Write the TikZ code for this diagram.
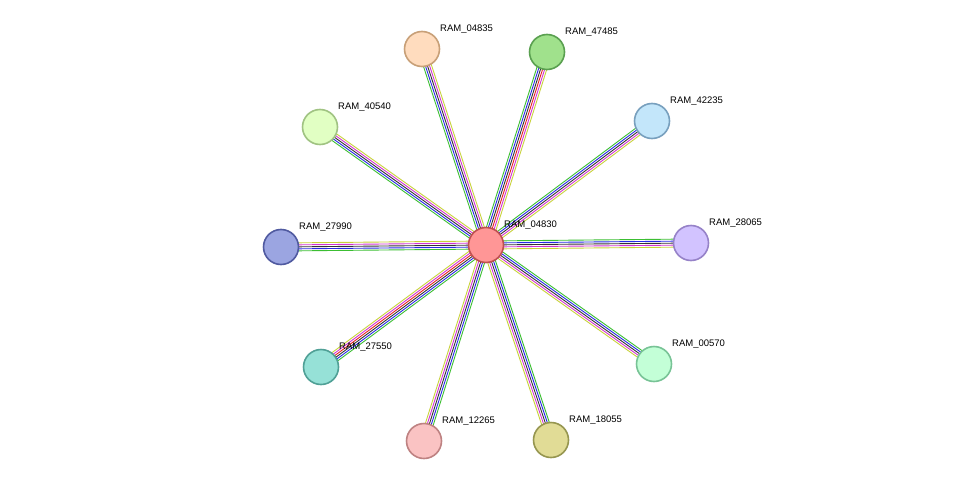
\documentclass[tikz,border=0pt]{standalone}
\usepackage{fontspec}
\setmainfont{Liberation Sans}
\usetikzlibrary{calc}
\tikzset{
  prot/.style={circle,draw,line width=1.6pt,minimum size=35pt,inner sep=0pt},
  lab/.style={font=\fontsize{9.5pt}{11pt}\selectfont,anchor=south west,inner sep=0pt}
}
\definecolor{cyel}{RGB}{200,210,60}
\definecolor{cmag}{RGB}{210,50,210}
\definecolor{cblk}{RGB}{50,50,50}
\definecolor{cblu}{RGB}{40,40,230}
\definecolor{cgrn}{RGB}{60,190,50}
\definecolor{cred}{RGB}{230,30,30}
\newcommand{\bund}[3]{%
  \foreach \o/\c in {#3}{%
    \draw[\c,line width=0.9pt] ($(#1)!\o pt!90:(#2)$) -- ($(#2)!\o pt!-90:(#1)$);}}
\begin{document}
\begin{tikzpicture}[x=1pt,y=-1pt]
\useasboundingbox (0,0) rectangle (976,487);
\coordinate (c) at (486,245);
\coordinate (n1) at (422,49);
\coordinate (n2) at (547,52);
\coordinate (n3) at (652,121);
\coordinate (n4) at (320,127);
\coordinate (n5) at (281,247);
\coordinate (n6) at (691,243);
\coordinate (n7) at (321,367);
\coordinate (n8) at (654,364);
\coordinate (n9) at (424,441);
\coordinate (n10) at (551,440);
\foreach \n in {n1,n3,n4,n5,n6,n8,n9,n10}{\bund{c}{\n}{-4/cyel,-2/cmag,0/cblk,2/cblu,4/cgrn}}
\foreach \n in {n2,n7}{\bund{c}{\n}{-5/cyel,-3/cmag,-1/cred,1/cblk,3/cblu,5/cgrn}}
\node[prot,fill={rgb,255:red,255;green,150;blue,150},draw={rgb,255:red,190;green,80;blue,80}] (a) at (c) {};
\node[prot,fill={rgb,255:red,255;green,220;blue,190},draw={rgb,255:red,200;green,160;blue,120}] (b1) at (n1) {};
\node[prot,fill={rgb,255:red,160;green,225;blue,140},draw={rgb,255:red,90;green,160;blue,80}] (b2) at (n2) {};
\node[prot,fill={rgb,255:red,195;green,230;blue,250},draw={rgb,255:red,120;green,160;blue,190}] (b3) at (n3) {};
\node[prot,fill={rgb,255:red,225;green,255;blue,195},draw={rgb,255:red,160;green,195;blue,130}] (b4) at (n4) {};
\node[prot,fill={rgb,255:red,155;green,165;blue,225},draw={rgb,255:red,80;green,90;blue,160}] (b5) at (n5) {};
\node[prot,fill={rgb,255:red,210;green,195;blue,255},draw={rgb,255:red,150;green,130;blue,200}] (b6) at (n6) {};
\node[prot,fill={rgb,255:red,150;green,225;blue,215},draw={rgb,255:red,80;green,160;blue,150}] (b7) at (n7) {};
\node[prot,fill={rgb,255:red,195;green,255;blue,215},draw={rgb,255:red,120;green,195;blue,150}] (b8) at (n8) {};
\node[prot,fill={rgb,255:red,250;green,195;blue,195},draw={rgb,255:red,190;green,130;blue,130}] (b9) at (n9) {};
\node[prot,fill={rgb,255:red,225;green,220;blue,150},draw={rgb,255:red,150;green,150;blue,80}] (b10) at (n10) {};
\node[lab] at ($(a)+(18,-15)$) {RAM\_04830};
\node[lab] at ($(b1)+(18,-15)$) {RAM\_04835};
\node[lab] at ($(b2)+(18,-15)$) {RAM\_47485};
\node[lab] at ($(b3)+(18,-15)$) {RAM\_42235};
\node[lab] at ($(b4)+(18,-15)$) {RAM\_40540};
\node[lab] at ($(b5)+(18,-15)$) {RAM\_27990};
\node[lab] at ($(b6)+(18,-15)$) {RAM\_28065};
\node[lab] at ($(b7)+(18,-15)$) {RAM\_27550};
\node[lab] at ($(b8)+(18,-15)$) {RAM\_00570};
\node[lab] at ($(b9)+(18,-15)$) {RAM\_12265};
\node[lab] at ($(b10)+(18,-15)$) {RAM\_18055};
\end{tikzpicture}
\end{document}
